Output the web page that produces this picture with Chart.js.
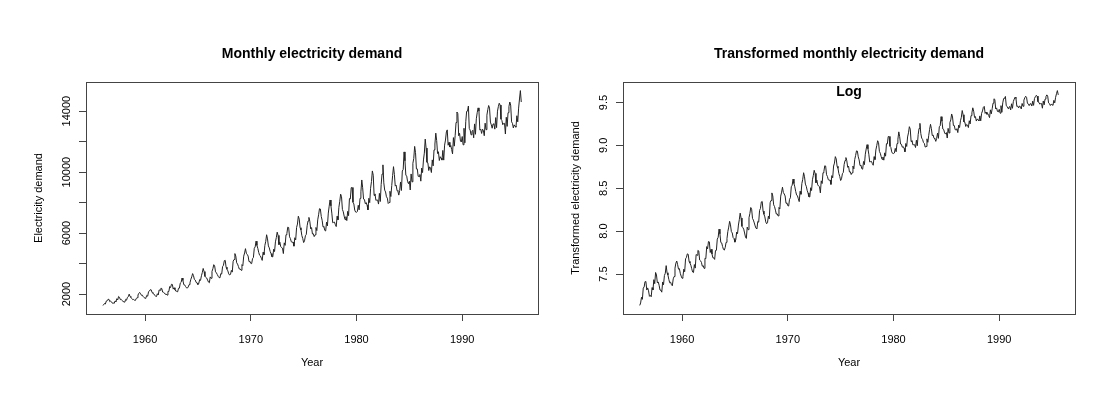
<!DOCTYPE html>
<html lang="en">
<head>
    <meta charset="UTF-8">
    <title>Monthly electricity demand</title>
    <script src="https://cdn.jsdelivr.net/npm/chart.js"></script>
    <style>
        body { margin: 0; background: #fff; }
        .panel { position: absolute; top: 0; }
    </style>
</head>
<body>
    <canvas id="left" class="panel" width="557" height="411" style="left:0px"></canvas>
    <canvas id="right" class="panel" width="558" height="411" style="left:557px"></canvas>

    <script>
        // monthly electricity demand, Jan 1956 - Aug 1995
        const startYear = 1956;
        const demand = [
            1254, 1290, 1379, 1346, 1535, 1555, 1655, 1651, 1500, 1538, 1486, 1394,
            1409, 1387, 1543, 1502, 1693, 1616, 1841, 1787, 1631, 1649, 1586, 1500,
            1497, 1463, 1648, 1595, 1777, 1824, 1994, 1835, 1787, 1699, 1633, 1645,
            1597, 1577, 1709, 1756, 1936, 2052, 2105, 2016, 1914, 1925, 1824, 1765,
            1721, 1752, 1914, 1857, 2159, 2195, 2287, 2276, 2096, 2055, 2004, 1924,
            1851, 1839, 2019, 1937, 2270, 2251, 2382, 2364, 2129, 2110, 2072, 1980,
            1995, 1932, 2171, 2162, 2489, 2424, 2641, 2630, 2324, 2412, 2284, 2186,
            2184, 2144, 2379, 2383, 2717, 2774, 3051, 2891, 2613, 2600, 2493, 2410,
            2390, 2463, 2616, 2734, 2970, 3125, 3342, 3207, 2964, 2919, 2764, 2732,
            2622, 2698, 2950, 2895, 3200, 3408, 3679, 3473, 3154, 3107, 3052, 2918,
            2786, 2739, 3125, 3033, 3486, 3661, 3927, 3851, 3456, 3390, 3280, 3166,
            3080, 3069, 3340, 3310, 3798, 3883, 4191, 4213, 3766, 3628, 3520, 3322,
            3250, 3287, 3552, 3440, 4153, 4265, 4655, 4492, 4051, 3967, 3807, 3639,
            3647, 3560, 3929, 3858, 4485, 4697, 4977, 4675, 4596, 4491, 4127, 4144,
            4014, 3994, 4320, 4400, 5002, 5091, 5471, 5193, 4997, 4737, 4546, 4498,
            4350, 4206, 4743, 4582, 5191, 5457, 5891, 5618, 5158, 5030, 4800, 4654,
            4453, 4440, 4945, 4788, 5425, 5706, 6061, 5846, 5242, 5408, 5114, 5042,
            5008, 4657, 5359, 5193, 5891, 5980, 6390, 6366, 5756, 5640, 5429, 5398,
            5413, 5141, 5695, 5554, 6369, 6592, 7107, 6917, 6353, 6205, 5830, 5646,
            5379, 5489, 5824, 5907, 6482, 6795, 7028, 6776, 6274, 6362, 5940, 5958,
            5769, 5887, 6367, 6165, 6868, 7201, 7601, 7581, 7090, 6841, 6408, 6435,
            6176, 6138, 6717, 6470, 7312, 7763, 8171, 7788, 7311, 6679, 6704, 6724,
            6552, 6427, 7105, 6869, 7683, 8082, 8555, 8386, 7553, 7398, 7112, 6886,
            7077, 6820, 7426, 7143, 8261, 8240, 8977, 8991, 8026, 7911, 7510, 7381,
            7366, 7414, 7824, 7524, 8279, 8707, 9486, 8973, 8231, 8206, 7927, 7999,
            7834, 7521, 8284, 7999, 8940, 9381, 10078, 9796, 8471, 8572, 8150, 8168,
            8166, 7903, 8606, 8071, 9178, 9873, 10476, 9296, 8818, 8697, 8381, 8293,
            7942, 8001, 8744, 8397, 9115, 9773, 10358, 9849, 9083, 9143, 8800, 8741,
            8492, 8795, 9354, 8796, 10072, 10174, 11326, 10744, 9806, 9740, 9373, 9244,
            9407, 8827, 9880, 9364, 10580, 10899, 11687, 11280, 10208, 10212, 9725, 9721,
            9846, 9407, 10265, 9970, 10801, 11246, 12167, 11578, 10645, 10613, 10104, 10348,
            10263, 9973, 10803, 10409, 11458, 11845, 12559, 12070, 11221, 11338, 10761, 11012,
            10923, 10790, 11427, 10788, 11772, 12104, 12634, 12772, 11764, 11956, 11646, 11750,
            11485, 11198, 12265, 11704, 12419, 13259, 13945, 13839, 12387, 12546, 12038, 11977,
            12336, 11793, 12877, 11923, 13306, 13988, 14002, 14338, 12867, 12761, 12449, 12658,
            12746, 12251, 13163, 12483, 13500, 13900, 14215, 14000, 12757, 12818, 12539, 12816,
            12742, 12388, 13212, 12786, 13736, 14100, 14370, 14200, 13281, 13104, 12880, 13156,
            13170, 12820, 13578, 12918, 14000, 14300, 14520, 14400, 13479, 13388, 13111, 13197,
            13200, 12500, 13600, 13000, 13900, 14300, 14600, 14400, 13300, 13200, 12900, 13100,
            13000, 12950, 13700, 13300, 14200, 14800, 15350, 14600
        ];

        const yearTicks = [1960, 1970, 1980, 1990];
        const demandTicks = [2000, 4000, 6000, 8000, 10000, 12000, 14000];
        const demandLabels = [2000, 6000, 10000, 14000];
        const logTicks = [7.5, 8.0, 8.5, 9.0, 9.5];
        const logLabels = [7.5, 8.0, 8.5, 9.0, 9.5];

        const FONT = "'Liberation Sans', Arial, sans-serif";

        // R style range: data range stretched by 4% each side
        function rRange(vals) {
            let lo = Math.min(...vals), hi = Math.max(...vals);
            let d = (hi - lo) * 0.04;
            return [lo - d, hi + d];
        }

        const years = demand.map((v, i) => startYear + i / 12);
        const logDemand = demand.map(v => Math.log(v));

        // box, titles and rotated y labels drawn the R way
        function rDecor(cfg) {
            return {
                id: 'rdecor',
                afterDraw(chart) {
                    let a = chart.chartArea;
                    let c = chart.ctx;
                    c.save();
                    c.strokeStyle = '#444';
                    c.lineWidth = 1;
                    c.strokeRect(Math.round(a.left) + 0.5, Math.round(a.top) + 0.5,
                        Math.round(a.right - a.left), Math.round(a.bottom - a.top));

                    let mid = (a.left + a.right) / 2;
                    c.fillStyle = '#000';
                    c.textAlign = 'center';
                    c.textBaseline = 'middle';
                    c.font = 'bold 14px ' + FONT;
                    c.fillText(cfg.title, mid, 54);
                    if (cfg.inner) c.fillText(cfg.inner, mid, 92);

                    c.font = '11px ' + FONT;
                    c.fillText('Year', mid, 363);

                    let ys = chart.scales.y;
                    cfg.labels.forEach(v => {
                        c.save();
                        c.translate(a.left - 19, ys.getPixelForValue(v));
                        c.rotate(-Math.PI / 2);
                        c.fillText(cfg.fmt(v), 0, 0);
                        c.restore();
                    });

                    c.save();
                    c.translate(a.left - 47, (a.top + a.bottom) / 2);
                    c.rotate(-Math.PI / 2);
                    c.fillText(cfg.ylab, 0, 0);
                    c.restore();
                    c.restore();
                }
            };
        }

        function makeChart(id, values, ticks, padRight, yWidth, cfg) {
            let range = rRange(values);
            let xr = rRange(years);
            return new Chart(document.getElementById(id), {
                type: 'line',
                data: {
                    datasets: [{
                        data: values.map((v, i) => ({ x: years[i], y: v })),
                        borderColor: '#222',
                        borderWidth: 1,
                        pointRadius: 0,
                        tension: 0,
                        fill: false
                    }]
                },
                plugins: [rDecor(cfg)],
                options: {
                    responsive: false,
                    animation: false,
                    layout: { padding: { top: 82, right: padRight, left: 0, bottom: 0 } },
                    plugins: {
                        legend: { display: false },
                        tooltip: { enabled: false }
                    },
                    scales: {
                        x: {
                            type: 'linear',
                            min: xr[0],
                            max: xr[1],
                            afterBuildTicks: s => { s.ticks = yearTicks.map(v => ({ value: v })); },
                            afterFit: s => { s.height = 97; },
                            grid: { drawOnChartArea: false, drawTicks: true, tickLength: 7, color: '#444' },
                            border: { display: false },
                            ticks: {
                                color: '#000',
                                padding: 12,
                                maxRotation: 0,
                                font: { family: FONT, size: 11 },
                                callback: v => String(v)
                            }
                        },
                        y: {
                            type: 'linear',
                            min: range[0],
                            max: range[1],
                            afterBuildTicks: s => { s.ticks = ticks.map(v => ({ value: v })); },
                            afterFit: s => { s.width = yWidth; },
                            grid: { drawOnChartArea: false, drawTicks: true, tickLength: 7, color: '#444' },
                            border: { display: false },
                            ticks: { display: false }
                        }
                    }
                }
            });
        }

        makeChart('left', demand, demandTicks, 19, 86, {
            title: 'Monthly electricity demand',
            ylab: 'Electricity demand',
            inner: null,
            labels: demandLabels,
            fmt: v => String(v)
        });
        makeChart('right', logDemand, logTicks, 40, 66, {
            title: 'Transformed monthly electricity demand',
            ylab: 'Transformed electricity demand',
            inner: 'Log',
            labels: logLabels,
            fmt: v => v.toFixed(1)
        });
    </script>
</body>
</html>
